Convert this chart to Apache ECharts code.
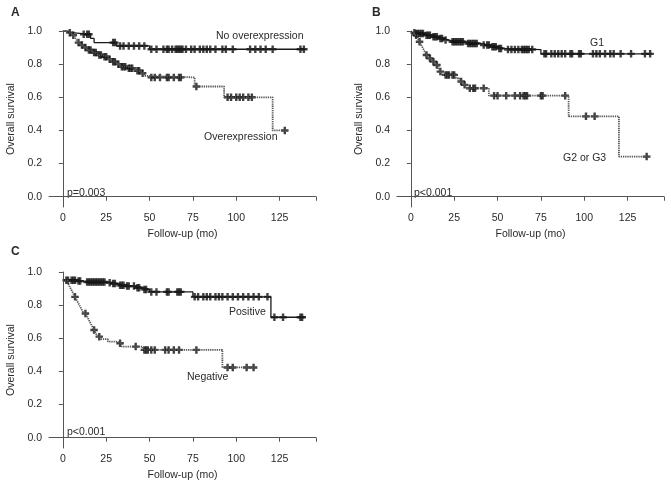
<!DOCTYPE html>
<html>
<head>
<meta charset="utf-8">
<script src="https://cdn.jsdelivr.net/npm/echarts@6/dist/echarts.min.js"></script>
<style>
  html, body { margin: 0; padding: 0; background: #fff; }
  #chart { width: 671px; height: 486px; }
</style>
</head>
<body>
<div id="chart"></div>
<script>
// tick labels
var xTicks = [0, 25, 50, 75, 100, 125];
var yTicks = [0, 0.2, 0.4, 0.6, 0.8, 1.0];

// A: step points [month, survival] and censored months
var aNoSteps = [[0, 1], [2, 0.99], [5, 0.98], [16, 0.955], [18, 0.93], [31, 0.91], [50, 0.89], [140, 0.89]];
var aNoCensor = [12, 14, 15, 29, 30, 33, 35, 38, 41, 44, 47, 51, 54, 58, 60, 61, 63, 65, 66, 67, 68, 69, 71, 74,
  76, 79, 81, 83, 85, 88, 92, 94, 98, 108, 111, 114, 117, 121, 137, 139];
var aOverSteps = [[0, 1], [3, 0.99], [5, 0.975], [7, 0.96], [8, 0.945], [9, 0.93], [10, 0.915], [12, 0.9],
  [14, 0.885], [17, 0.87], [20, 0.855], [23, 0.845], [26, 0.83], [28, 0.815], [31, 0.8], [33, 0.785],
  [37, 0.775], [42, 0.76], [45, 0.745], [47, 0.73], [48, 0.72], [76, 0.665], [93, 0.6], [121, 0.4], [129, 0.4]];
var aOverCensor = [4, 6, 9, 11, 13, 15, 16, 18, 19, 21, 22, 24, 25, 27, 29, 30, 32, 34, 35, 36, 38, 39, 40, 43, 44, 46,
  51, 53, 56, 60, 61, 64, 67, 68, 77, 95, 97, 100, 102, 104, 107, 109, 128];

// B
var bG1Steps = [[0, 0.99], [3, 0.985], [8, 0.975], [12, 0.965], [16, 0.955], [19, 0.945], [22, 0.935], [32, 0.925],
  [40, 0.915], [46, 0.905], [50, 0.895], [53, 0.888], [75, 0.862], [139, 0.862]];
var bG1Censor = [2, 3, 4, 5, 6, 7, 9, 10, 11, 13, 14, 15, 17, 18, 20, 24, 25, 26, 27, 28, 29, 30, 33, 34, 35, 36, 37, 38,
  42, 44, 45, 47, 48, 49, 51, 52, 56, 58, 60, 62, 64, 65, 66, 67, 68, 70,
  77, 78, 81, 83, 85, 87, 89, 92, 93, 97, 98, 105, 107, 109, 112, 115, 117, 121, 127, 135, 138];
var bG23Steps = [[0, 0.99], [2, 0.975], [4, 0.955], [5, 0.935], [6, 0.915], [7, 0.895], [8, 0.875], [9, 0.855],
  [10, 0.835], [12, 0.815], [14, 0.795], [16, 0.775], [17, 0.755], [18, 0.735], [26, 0.715], [28, 0.695],
  [30, 0.675], [32, 0.655], [45, 0.61], [91, 0.485], [120, 0.242], [138, 0.242]];
var bG23Censor = [3, 5, 9, 11, 13, 15, 17, 20, 21, 22, 24, 25, 29, 31, 34, 36, 37, 42,
  48, 50, 55, 60, 63, 65, 66, 67, 75, 76, 89, 101, 106, 136];

// C
var cPosSteps = [[0, 0.95], [8, 0.945], [12, 0.94], [26, 0.935], [28, 0.93], [32, 0.92], [36, 0.915], [42, 0.905],
  [46, 0.895], [50, 0.88], [75, 0.85], [120, 0.727], [140, 0.727]];
var cPosCensor = [2, 3, 5, 6, 7, 9, 10, 14, 15, 16, 17, 18, 19, 20, 21, 22, 23, 24, 27, 29, 30, 33, 34, 35, 37, 38,
  41, 43, 44, 47, 48, 51, 54, 60, 61, 66, 67, 68, 76, 78, 81, 83, 85, 88, 90, 92, 95, 98, 101, 104, 107, 110, 113, 118,
  122, 127, 137, 138];
var cNegSteps = [[0, 0.95], [3, 0.93], [4, 0.91], [5, 0.89], [6, 0.87], [7, 0.85], [8, 0.83], [9, 0.81], [10, 0.79],
  [11, 0.77], [12, 0.75], [14, 0.73], [15, 0.71], [16, 0.69], [17, 0.67], [18, 0.65], [19, 0.63], [20, 0.61],
  [22, 0.595], [26, 0.58], [31, 0.57], [34, 0.55], [46, 0.53], [92, 0.424], [112, 0.424]];
var cNegCensor = [7, 13, 18, 21, 33, 42, 47, 48, 49, 51, 53, 59, 61, 64, 67, 77, 95, 98, 106, 110];

var FONT = '"Liberation Sans", Arial, sans-serif';
// censor tick: a fat plus sign
var PLUS = 'path://M3.4,0h3.2v3.4h3.4v3.2h-3.4v3.4h-3.2v-3.4h-3.4v-3.2h3.4z';

function survAt(steps, t) {
  var v = steps[0][1];
  for (var i = 0; i < steps.length; i++) {
    if (steps[i][0] <= t) v = steps[i][1];
  }
  return v;
}

var grids = [
  {left: 49, top: 31, width: 267, height: 176},
  {left: 397, top: 31, width: 267, height: 176},
  {left: 49, top: 272, width: 267, height: 176}
];

function xAx(i) {
  return {
    gridIndex: i, type: 'value', min: -8, max: 146,
    name: 'Follow-up (mo)', nameLocation: 'middle', nameGap: 22,
    nameTextStyle: {fontFamily: FONT, fontSize: 10.5, color: '#2a2a2a'},
    axisLine: {lineStyle: {color: '#555'}},
    axisTick: {length: 4, customValues: xTicks.concat([146]), lineStyle: {color: '#555'}},
    axisLabel: {customValues: xTicks, margin: 6, fontFamily: FONT, fontSize: 10.5, color: '#2a2a2a'},
    splitLine: {show: false}
  };
}
function yAx(i) {
  return {
    gridIndex: i, type: 'value', min: -0.062, max: 1,
    name: 'Overall survival', nameLocation: 'middle', nameGap: 32,
    nameTextStyle: {fontFamily: FONT, fontSize: 10.5, color: '#2a2a2a'},
    axisLine: {show: true, lineStyle: {color: '#555'}},
    axisTick: {show: true, length: 4, customValues: yTicks, lineStyle: {color: '#555'}},
    axisLabel: {customValues: yTicks, margin: 7, fontFamily: FONT, fontSize: 10.5, color: '#2a2a2a',
      formatter: function (v) { return v.toFixed(1); }},
    splitLine: {show: false}
  };
}

function panel(i, steps, censor, dotted) {
  return [
    {
      type: 'line', xAxisIndex: i, yAxisIndex: i, step: 'end', data: steps,
      symbol: 'none', silent: true,
      lineStyle: dotted ? {color: '#555', width: 1.8, type: [1.3, 0.9]} : {color: '#1a1a1a', width: 1.3}
    },
    {
      type: 'scatter', xAxisIndex: i, yAxisIndex: i, symbol: PLUS, symbolSize: 7.5,
      itemStyle: {color: '#111'},
      data: censor.map(function (t) { return [t, survAt(steps, t)]; })
    }
  ];
}

function txt(x, y, s, bold) {
  return {
    type: 'text', x: x, y: y,
    style: {text: s, fill: '#2a2a2a', font: (bold ? 'bold 12px ' : '10.5px ') + FONT, textVerticalAlign: 'middle'}
  };
}

var chart = echarts.init(document.getElementById('chart'));
chart.setOption({
  animation: false,
  backgroundColor: '#fff',
  grid: grids,
  xAxis: [xAx(0), xAx(1), xAx(2)],
  yAxis: [yAx(0), yAx(1), yAx(2)],
  series: [].concat(
    panel(0, aNoSteps, aNoCensor, false),
    panel(0, aOverSteps, aOverCensor, true),
    panel(1, bG1Steps, bG1Censor, false),
    panel(1, bG23Steps, bG23Censor, true),
    panel(2, cPosSteps, cPosCensor, false),
    panel(2, cNegSteps, cNegCensor, true)
  ),
  graphic: [
    txt(11, 13, 'A', true), txt(372, 13, 'B', true), txt(11, 252, 'C', true),
    txt(216, 36, 'No overexpression'), txt(204, 137, 'Overexpression'), txt(67, 193, 'p=0.003'),
    txt(590, 43, 'G1'), txt(563, 158, 'G2 or G3'), txt(414, 193, 'p<0.001'),
    txt(229, 312, 'Positive'), txt(187, 377, 'Negative'), txt(67, 432, 'p<0.001')
  ]
});
</script>
</body>
</html>
